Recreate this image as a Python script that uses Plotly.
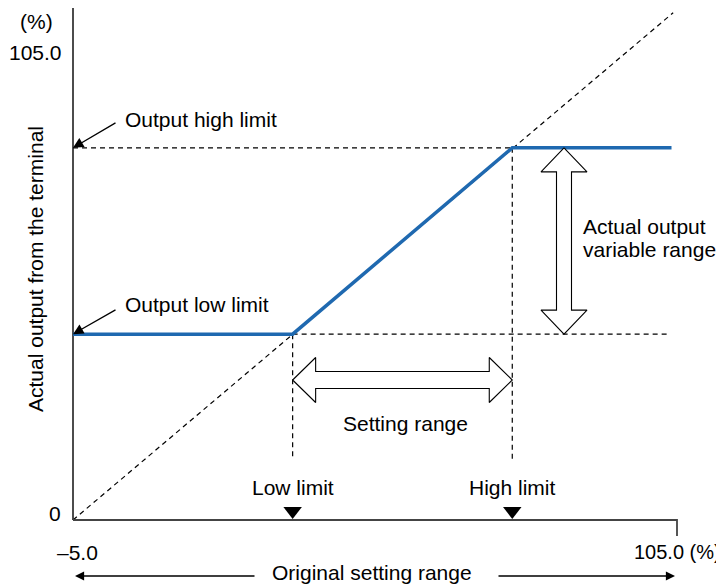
import plotly.graph_objects as go

WIN_W, WIN_H = 724, 585
PAGE_MARGIN = 8  # default body margin of the page
W, H = WIN_W - PAGE_MARGIN, WIN_H - PAGE_MARGIN

# ---- values ----
x_tick_vals = [-5.0, 105.0]
x_tick_text = ["\u20135.0", "105.0 (%)"]
y_tick_vals = [0.0, 105.0]
y_tick_text = ["0", "105.0"]
y_unit_text = "(%)"

low_limit = 35.0
high_limit = 75.0
output_low = 41.7
output_high = 83.5

curve_x = [-5.0, 35.0, 75.0, 104.0]
curve_y = [41.7, 41.7, 83.5, 83.5]

diag_x = [-5.0, 104.3]
diag_y = [0.0, 113.8]

# ---- pixel geometry of the drawing (window pixels) ----
PX_L, PX_R = 73, 677
PY_0, PY_105 = 520, 52
sx = (PX_R - PX_L) / (x_tick_vals[1] - x_tick_vals[0])
sy = (PY_0 - PY_105) / (y_tick_vals[1] - y_tick_vals[0])


def X(px):
    return x_tick_vals[0] + (px - PX_L) / sx


def Y(py):
    return (PY_0 - py) / sy


def to_px(x, y):
    return PX_L + (x - x_tick_vals[0]) * sx, PY_0 - y * sy


x_range = [X(PAGE_MARGIN), X(WIN_W)]
y_range = [Y(WIN_H), Y(PAGE_MARGIN)]

FONT = "Liberation Sans, Arial, sans-serif"
FS = 21
BLUE = "#1f69b0"
DASH = "5px,4px"

fig = go.Figure()


def line(xs, ys, color="black", width=1.2, dash=None):
    fig.add_trace(go.Scatter(x=xs, y=ys, mode="lines",
                             line=dict(color=color, width=width, dash=dash),
                             hoverinfo="skip", showlegend=False))


# dashed diagonal
line(diag_x, diag_y, dash=DASH)
# dashed guide lines
line([x_tick_vals[0], high_limit], [output_high, output_high], dash=DASH)
line([low_limit, X(668)], [output_low, output_low], dash=DASH)
line([low_limit, low_limit], [output_low, Y(460)], dash=DASH)
line([high_limit, high_limit], [output_high, Y(460)], dash=DASH)

# axes
line([x_tick_vals[0], x_tick_vals[0]], [0, Y(PAGE_MARGIN)], color="#111", width=1.5)
line([x_tick_vals[0], x_tick_vals[1], x_tick_vals[1]], [0, 0, Y(536)],
     color="#444", width=1.8)

# output curve
line(curve_x, curve_y, color=BLUE, width=3.5)


def hollow_double_arrow(p_a, p_b, head_len, head_w, shaft_w):
    (ax_, ay_), (bx_, by_) = to_px(*p_a), to_px(*p_b)
    dx, dy = bx_ - ax_, by_ - ay_
    n = (dx * dx + dy * dy) ** 0.5
    ux, uy = dx / n, dy / n
    vx, vy = -uy, ux

    def P(t, s):
        return ax_ + ux * t + vx * s, ay_ + uy * t + vy * s

    pts = [P(0, 0), P(head_len, head_w / 2), P(head_len, shaft_w / 2),
           P(n - head_len, shaft_w / 2), P(n - head_len, head_w / 2), P(n, 0),
           P(n - head_len, -head_w / 2), P(n - head_len, -shaft_w / 2),
           P(head_len, -shaft_w / 2), P(head_len, -head_w / 2), P(0, 0)]
    fig.add_trace(go.Scatter(x=[X(p[0]) for p in pts], y=[Y(p[1]) for p in pts],
                             mode="lines", fill="toself", fillcolor="white",
                             line=dict(color="black", width=1.1),
                             hoverinfo="skip", showlegend=False))


setting_arrow_y = Y(380)
range_arrow_x = X(564)
hollow_double_arrow((low_limit, setting_arrow_y), (high_limit, setting_arrow_y), 23, 45, 17)
hollow_double_arrow((range_arrow_x, output_high), (range_arrow_x, output_low), 24, 46, 15)

# limit markers
fig.add_trace(go.Scatter(x=[low_limit, high_limit], y=[Y(511), Y(511)], mode="markers",
                         marker=dict(symbol="triangle-down", size=16, color="black"),
                         hoverinfo="skip", showlegend=False))

annotations = []


def text(t, x, y, xanchor="center", angle=0, size=FS):
    annotations.append(dict(x=x, y=y, text=t, showarrow=False, xanchor=xanchor,
                            yanchor="middle", textangle=angle, borderpad=0,
                            font=dict(family=FONT, size=size, color="black")))


def arrow(x_head, y_head, x_tail, y_tail, size=1.0):
    annotations.append(dict(x=x_head, y=y_head, ax=x_tail, ay=y_tail,
                            axref="x", ayref="y", xref="x", yref="y", text="",
                            showarrow=True, arrowhead=2, arrowsize=size,
                            arrowwidth=1.3, arrowcolor="black"))


text(y_unit_text, X(36), Y(21))
text(y_tick_text[1], X(63), y_tick_vals[1], xanchor="right")
text(y_tick_text[0], X(62), Y(513), xanchor="right")
text(x_tick_text[0], X(77), Y(552))
text(x_tick_text[1], X(722), Y(552), xanchor="right", size=20)

text("Actual output from the terminal", X(35), Y(269), angle=-90)
text("Output high limit", X(124), Y(119), xanchor="left")
text("Output low limit", X(124), Y(304), xanchor="left")
arrow(x_tick_vals[0], output_high, X(117), Y(122), size=1.6)
arrow(x_tick_vals[0], output_low, X(117), Y(309), size=1.6)

text("Low limit", low_limit, Y(487))
text("High limit", high_limit, Y(487))
text("Setting range", (low_limit + high_limit) / 2 + 0.5, Y(423))
text("Actual output", X(582), Y(226), xanchor="left")
text("variable range", X(582), Y(249), xanchor="left")

text("Original setting range", X(372), Y(572))
arrow(X(75), Y(576), X(256), Y(576), size=1.4)
arrow(X(675), Y(576), X(497), Y(576), size=1.4)

fig.update_layout(
    width=W, height=H,
    margin=dict(l=0, r=0, t=0, b=0),
    paper_bgcolor="white", plot_bgcolor="white",
    xaxis=dict(range=x_range, visible=False, fixedrange=True),
    yaxis=dict(range=y_range, visible=False, fixedrange=True),
    annotations=annotations,
    showlegend=False,
)

fig.write_html("out.html")
